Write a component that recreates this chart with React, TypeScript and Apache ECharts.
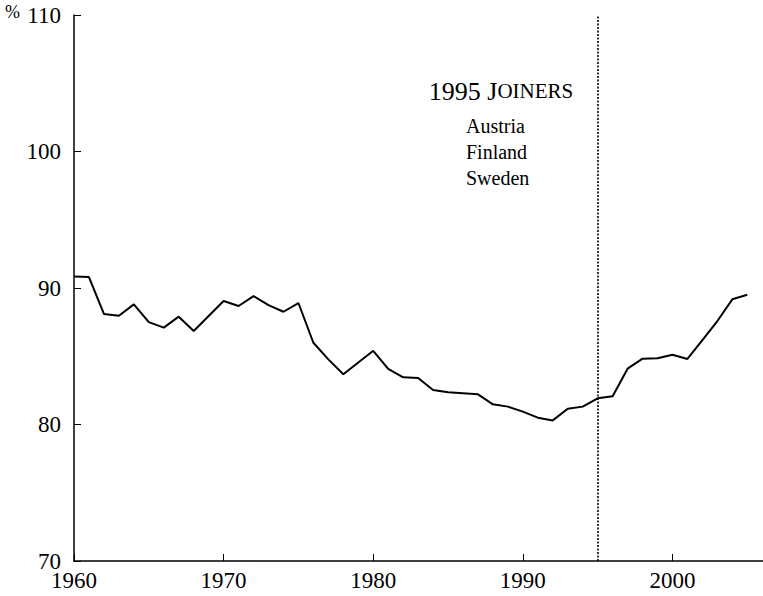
import React, { useEffect, useRef } from "react";
import * as echarts from "echarts";

const years = [
  1960, 1961, 1962, 1963, 1964, 1965, 1966, 1967, 1968, 1969,
  1970, 1971, 1972, 1973, 1974, 1975, 1976, 1977, 1978, 1979,
  1980, 1981, 1982, 1983, 1984, 1985, 1986, 1987, 1988, 1989,
  1990, 1991, 1992, 1993, 1994, 1995, 1996, 1997, 1998, 1999,
  2000, 2001, 2002, 2003, 2004, 2005,
];
const values = [
  90.85, 90.8, 88.1, 87.97, 88.8, 87.5, 87.1, 87.9, 86.85, 87.95,
  89.05, 88.68, 89.4, 88.75, 88.26, 88.9, 85.99, 84.77, 83.68, 84.54,
  85.4, 84.07, 83.46, 83.41, 82.53, 82.36, 82.29, 82.21, 81.48, 81.31,
  80.94, 80.5, 80.3, 81.16, 81.31, 81.92, 82.07, 84.09, 84.82, 84.85,
  85.11, 84.8, 86.19, 87.58, 89.17, 89.51,
];
const xTicks = [1960, 1970, 1980, 1990, 2000];
const yTicks = [70, 80, 90, 100, 110];
const markerYear = 1995;
const titleText = ["1995 J", "OINERS"];
const countries = ["Austria", "Finland", "Sweden"];

const FONT = "'Liberation Serif', 'Times New Roman', serif";

export default function App() {
  const ref = useRef<HTMLDivElement>(null);
  useEffect(() => {
    if (!ref.current) return;
    const chart = echarts.init(ref.current, null, { renderer: "svg" });
    const data = years.map((y, i) => [y, values[i]]);
    chart.setOption({
      animation: false,
      backgroundColor: "#ffffff",
      grid: { left: 74, right: 0, top: 15, bottom: 35, containLabel: false },
      xAxis: {
        type: "value",
        min: 1960,
        max: 2006.05,
        interval: 10,
        splitLine: { show: false },
        axisLine: { show: true, lineStyle: { color: "#000", width: 1.5 } },
        axisTick: {
          show: true,
          inside: true,
          length: 7,
          lineStyle: { color: "#000", width: 1 },
        },
        axisLabel: {
          customValues: xTicks,
          color: "#000",
          fontFamily: FONT,
          fontSize: 23,
          margin: 8,
          formatter: (v: number) => String(v),
        },
      },
      yAxis: {
        type: "value",
        min: 70,
        max: 110,
        interval: 10,
        splitLine: { show: false },
        axisLine: { show: true, lineStyle: { color: "#000", width: 1.5 } },
        axisTick: {
          show: true,
          inside: true,
          length: 7,
          lineStyle: { color: "#000", width: 1 },
        },
        axisLabel: {
          customValues: yTicks,
          color: "#000",
          fontFamily: FONT,
          fontSize: 23,
          margin: 13,
        },
      },
      series: [
        {
          type: "line",
          data,
          symbol: "none",
          lineStyle: { color: "#000", width: 2 },
          markLine: {
            silent: true,
            symbol: ["none", "none"],
            label: { show: false },
            lineStyle: { color: "#000", width: 1.6, type: [2, 1.5] },
            data: [{ xAxis: markerYear }],
          },
        },
      ],
      graphic: [
        {
          type: "text",
          left: 5,
          top: 3,
          style: { text: "%", font: `18px ${FONT}`, fill: "#000" },
        },
        {
          type: "text",
          x: 501,
          y: 91,
          style: {
            text: `{a|${titleText[0]}}{b|${titleText[1]}}`,
            align: "center",
            verticalAlign: "middle",
            fill: "#000",
            rich: {
              a: { fontFamily: FONT, fontSize: 26, fill: "#000" },
              b: { fontFamily: FONT, fontSize: 21, fill: "#000" },
            },
          },
        },
        ...countries.map((c, i) => ({
          type: "text",
          x: 466,
          y: 126 + i * 26,
          style: {
            text: c,
            font: `20px ${FONT}`,
            fill: "#000",
            align: "left",
            verticalAlign: "middle",
          },
        })),
      ],
    });
    return () => chart.dispose();
  }, []);
  return <div ref={ref} style={{ width: 763, height: 596, position: "absolute", left: 0, top: 0 }} />;
}
